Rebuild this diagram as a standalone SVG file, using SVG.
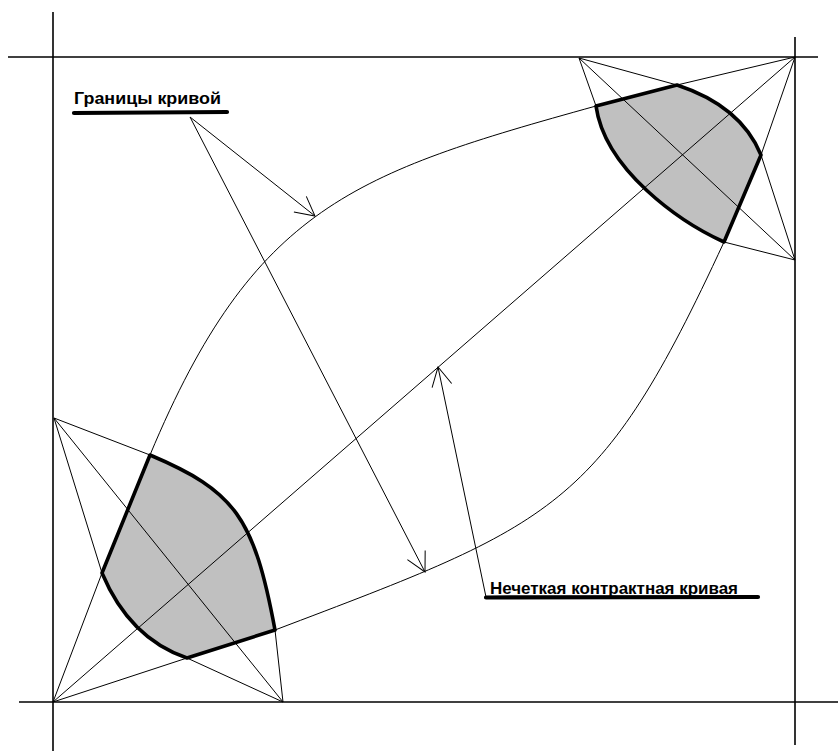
<svg xmlns="http://www.w3.org/2000/svg" width="838" height="751" viewBox="0 0 838 751">
<style>
.frame{stroke:#000;stroke-width:1.6;fill:none}
.thin{stroke:#000;stroke-width:1;fill:none}
.fill{fill:#c0c0c0;stroke:none}
.thick{stroke:#000;stroke-width:3.6;fill:none;stroke-linejoin:round}
.ul{stroke:#000;stroke-width:4.2;stroke-linecap:round}
.lbl{font-family:"Liberation Sans",Arial,sans-serif;font-weight:bold;font-size:17px;fill:#000}
</style>
<defs>
<marker id="arr" markerUnits="userSpaceOnUse" markerWidth="30" markerHeight="30" viewBox="-25 -15 30 30" refX="0" refY="0" orient="auto" overflow="visible">
<path d="M-19,-10 L0,0 L-19,10" fill="none" stroke="#000" stroke-width="1"/>
</marker>
</defs>
<rect width="838" height="751" fill="#fff"/>
<g id="frame">
<line class="frame" x1="8" y1="57" x2="818" y2="57"/>
<line class="frame" x1="53" y1="12" x2="53" y2="751"/>
<line class="frame" x1="19" y1="702" x2="838" y2="702"/>
<line class="frame" x1="795" y1="37" x2="795" y2="745"/>
</g>
<g id="shape-top-right">
<path class="fill" d="M596,106 L677,85 Q741,106 761,155 L724,242 C680,222 605,170 596,106 Z"/>
<path class="thin" d="M579,58 L677,85 L795,57 L761,155 L795,260 L724,242 M579,58 L596,106 M579,58 L795,260"/>
</g>
<g id="shape-bottom-left">
<path class="fill" d="M150,455 L102,573 Q129.5,638.5 187,658 L275,630 C254,517 235,491 150,455 Z"/>
<path class="thin" d="M54,418 L150,455 M54,418 L102,573 L53,702 L187,658 L283,702 L275,630 M54,418 L283,702"/>
</g>
<g id="curves">
<path class="thin" d="M795,57 L53,702"/>
<path class="thin" d="M150,455 C254,206 355,173 596,106"/>
<path class="thin" d="M275,630 C555.5,523.5 600,510 724,242"/>
</g>
<g id="outlines">
<path class="thick" d="M596,106 L677,85 Q741,106 761,155 L724,242 C680,222 605,170 596,106 Z"/>
<path class="thick" d="M150,455 L102,573 Q129.5,638.5 187,658 L275,630 C254,517 235,491 150,455 Z"/>
</g>
<g id="connectors">
<line class="thin" x1="190" y1="117" x2="315" y2="216" marker-end="url(#arr)"/>
<line class="thin" x1="190" y1="117" x2="425" y2="572" marker-end="url(#arr)"/>
<line class="thin" x1="486" y1="597" x2="438" y2="367" marker-end="url(#arr)"/>
</g>
<g id="label-boundaries">
<text class="lbl" x="74" y="104" textLength="147" lengthAdjust="spacingAndGlyphs">Границы кривой</text>
<line class="ul" x1="74" y1="113" x2="227" y2="112"/>
</g>
<g id="label-fuzzy">
<text class="lbl" x="490" y="594" textLength="248" lengthAdjust="spacingAndGlyphs">Нечеткая контрактная кривая</text>
<line class="ul" x1="486" y1="597.5" x2="758" y2="597"/>
</g>
</svg>
